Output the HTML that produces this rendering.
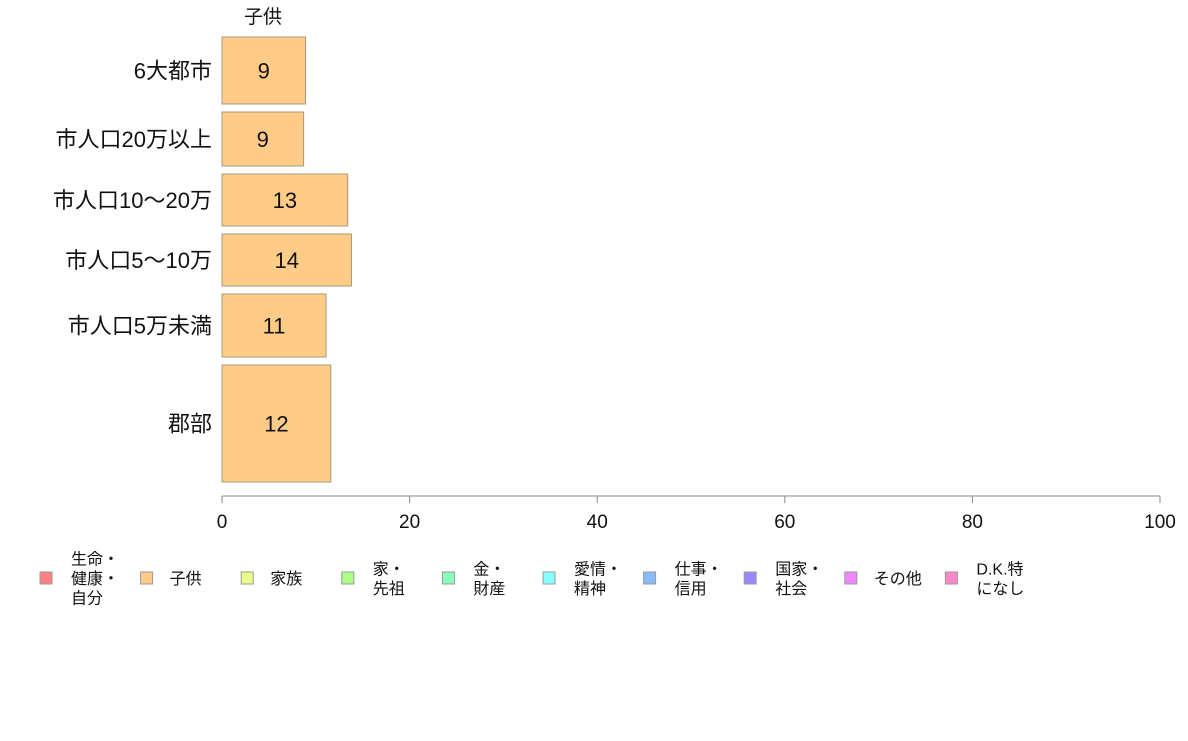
<!DOCTYPE html>
<html><head><meta charset="utf-8"><style>
body{margin:0;background:#fff;}
svg text{font-family:"Liberation Sans","Noto Sans CJK JP",sans-serif;fill:#111;}
</style></head><body>
<svg id="c" width="1188" height="736"></svg>
<script>
const categories=["6大都市","市人口20万以上","市人口10〜20万","市人口5〜10万","市人口5万未満","郡部"];
const values=[8.9,8.7,13.4,13.8,11.1,11.6];
const valueLabels=["9","9","13","14","11","12"];
const weights=[67,54,52,52,63,117];
const xTicks=[0,20,40,60,80,100];
const legendLabels=[["生命・","健康・","自分"],["子供"],["家族"],["家・","先祖"],["金・","財産"],["愛情・","精神"],["仕事・","信用"],["国家・","社会"],["その他"],["D.K.特","になし"]];
const legendColors=["#FF8080","#FFCC88","#EEFF88","#AAFF88","#88FFBB","#88FFFF","#88BBFF","#9988FF","#EE88FF","#FF88CC"];

const svg=document.getElementById('c');
const NS="http://www.w3.org/2000/svg";
function mk(t,a,txt){const e=document.createElementNS(NS,t);for(const k in a)e.setAttribute(k,a[k]);if(txt!==undefined)e.textContent=txt;svg.appendChild(e);return e;}
const x0=222,x1=1160,plotTop=37,plotBot=482,gap=8;
const xs=v=>x0+(x1-x0)*v/100;
const totalW=weights.reduce((a,b)=>a+b,0);
const unit=(plotBot-plotTop-gap*(weights.length-1))/totalW;

let t=mk('text',{x:263,y:23,'text-anchor':'middle','font-size':19},'子供');



let yy=plotTop;
categories.forEach((c,i)=>{
  const h=weights[i]*unit;
  const r=mk('rect',{x:x0,y:yy,width:xs(values[i])-x0,height:h,fill:'#FFCC88',stroke:'#A89878','stroke-width':1});
  
  
  const v=mk('text',{x:(x0+xs(values[i]))/2,y:yy+h/2+8,'text-anchor':'middle','font-size':22},valueLabels[i]);
  
  
  const l=mk('text',{x:212,y:yy+h/2+8,'text-anchor':'end','font-size':22},c);
  
  
  yy+=h+gap;
});

const ax=mk('line',{x1:x0,x2:x1,y1:496,y2:496,stroke:'#888','stroke-width':1});


xTicks.forEach(v=>{
  const tk=mk('line',{x1:xs(v),x2:xs(v),y1:496,y2:503,stroke:'#888','stroke-width':1});
  
  
  const tl=mk('text',{x:xs(v),y:528,'text-anchor':'middle','font-size':19},String(v));
  
  
});

legendLabels.forEach((lines,i)=>{
  const lx=40+i*100.6;
  const sw=mk('rect',{x:lx,y:572,width:12,height:12,fill:legendColors[i],stroke:'#999','stroke-width':1});
  
  
  const n=lines.length, lh=19.5;
  lines.forEach((s,j)=>{
    const ty=578+6+(j-(n-1)/2)*lh;
    const te=mk('text',{x:lx+(n===1?29:31),y:ty,'font-size':16},s);
    
    
  });
});
</script>
</body></html>
